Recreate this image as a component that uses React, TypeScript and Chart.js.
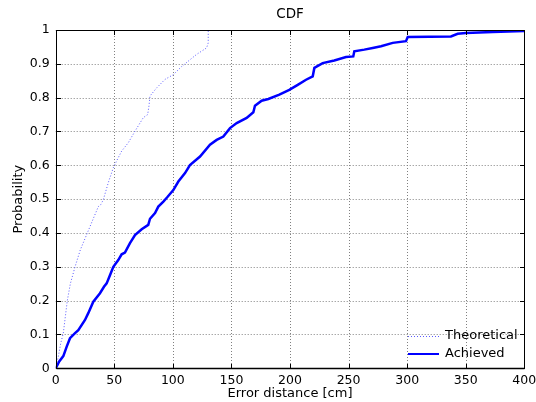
import React, { useEffect, useRef } from "react";
import { Chart, registerables } from "chart.js";

Chart.register(...registerables);

const xTickValues = [0, 50, 100, 150, 200, 250, 300, 350, 400];
const xTickLabels = ["0", "50", "100", "150", "200", "250", "300", "350", "400"];
const yTickValues = [0, 0.1, 0.2, 0.3, 0.4, 0.5, 0.6, 0.7, 0.8, 0.9, 1];
const yTickLabels = ["0", "0.1", "0.2", "0.3", "0.4", "0.5", "0.6", "0.7", "0.8", "0.9", "1"];

const achievedX = [0, 3, 6.5, 9.4, 12.2, 16.5, 19.3, 25, 27.8, 32.1, 37.8, 41.2, 43.5, 46.4, 49.2, 53.4, 56.3, 59.1, 63.4, 67.7, 73.4, 79, 80.5, 84.8, 87.6, 91.9, 95, 100.4, 104.7, 110.4, 114.6, 123.2, 131.7, 137.4, 143.1, 148.8, 154.5, 163, 168.7, 170.1, 175.8, 181.5, 190.9, 199.4, 206.6, 213.7, 219.4, 220.8, 227.9, 237.8, 247.8, 254, 254.9, 263.4, 270.6, 277.7, 287.7, 299, 300.5, 337.4, 343.1, 350.2, 373, 400];
const achievedY = [0, 0.02, 0.036, 0.064, 0.089, 0.104, 0.113, 0.143, 0.163, 0.197, 0.222, 0.241, 0.251, 0.276, 0.3, 0.32, 0.337, 0.342, 0.37, 0.394, 0.411, 0.424, 0.442, 0.459, 0.478, 0.493, 0.505, 0.527, 0.552, 0.577, 0.601, 0.626, 0.661, 0.675, 0.685, 0.71, 0.725, 0.74, 0.757, 0.776, 0.791, 0.796, 0.809, 0.823, 0.838, 0.853, 0.863, 0.888, 0.902, 0.91, 0.92, 0.922, 0.937, 0.942, 0.947, 0.952, 0.962, 0.967, 0.979, 0.981, 0.989, 0.991, 0.994, 0.997];

const theoreticalX = [0, 2.2, 4.3, 6.5, 9.9, 12.5, 16.5, 21, 27, 33, 36.4, 38.5, 40.6, 45, 49.2, 53, 56.3, 62, 67.7, 74.8, 78.5, 79.6, 80.5, 86.2, 93.3, 100.4, 107.5, 114.6, 120.3, 128.8, 130.2, 130.2];
const theoreticalY = [0, 0.034, 0.074, 0.104, 0.2, 0.25, 0.3, 0.35, 0.4, 0.45, 0.478, 0.484, 0.498, 0.55, 0.593, 0.62, 0.642, 0.667, 0.701, 0.741, 0.75, 0.775, 0.805, 0.829, 0.854, 0.868, 0.892, 0.912, 0.928, 0.947, 0.962, 0.997];

const FONT = "'DejaVu Sans', sans-serif";
const ACHIEVED_COLOR = "#0000ff";
const THEO_COLOR = "rgb(90,90,255)";

const framePlugin = {
  id: "frame",
  beforeDatasetsDraw(chart: any) {
    const { ctx, chartArea } = chart;
    const { left, right, top, bottom } = chartArea;
    const xs = chart.scales.x;
    const ys = chart.scales.y;
    ctx.save();
    ctx.strokeStyle = "#808080";
    ctx.lineWidth = 1;
    ctx.setLineDash([1, 2]);
    xTickValues.forEach((v) => {
      const px = Math.round(xs.getPixelForValue(v)) + 0.5;
      ctx.beginPath();
      ctx.moveTo(px, top);
      ctx.lineTo(px, bottom);
      ctx.stroke();
    });
    yTickValues.forEach((v) => {
      const py = Math.round(ys.getPixelForValue(v)) + 0.5;
      ctx.beginPath();
      ctx.moveTo(left, py);
      ctx.lineTo(right, py);
      ctx.stroke();
    });
    ctx.restore();
  },
  afterDraw(chart: any) {
    const { ctx, chartArea } = chart;
    const { left, right, top, bottom } = chartArea;
    const xs = chart.scales.x;
    const ys = chart.scales.y;
    ctx.save();
    ctx.strokeStyle = "#000";
    ctx.lineWidth = 1;
    ctx.setLineDash([]);
    const L = Math.round(left) + 0.5;
    const R = Math.round(right) + 0.5;
    const T = Math.round(top) + 0.5;
    const B = Math.round(bottom) + 0.5;
    ctx.strokeRect(L, T, R - L, B - T);
    ctx.lineWidth = 1.5;
    ctx.beginPath();
    ctx.moveTo(L, B);
    ctx.lineTo(R, B);
    ctx.stroke();
    ctx.lineWidth = 1;
    const tl = 4.5;
    xTickValues.forEach((v) => {
      const px = Math.round(xs.getPixelForValue(v)) + 0.5;
      ctx.beginPath();
      ctx.moveTo(px, B);
      ctx.lineTo(px, B - tl);
      ctx.moveTo(px, T);
      ctx.lineTo(px, T + tl);
      ctx.stroke();
    });
    yTickValues.forEach((v) => {
      const py = Math.round(ys.getPixelForValue(v)) + 0.5;
      ctx.beginPath();
      ctx.moveTo(L, py);
      ctx.lineTo(L + tl, py);
      ctx.moveTo(R, py);
      ctx.lineTo(R - tl, py);
      ctx.stroke();
    });

    // title
    ctx.fillStyle = "#000";
    ctx.font = `13.5px ${FONT}`;
    ctx.textAlign = "center";
    ctx.textBaseline = "middle";
    ctx.fillText("CDF", (left + right) / 2, 14);

    // legend
    const lx0 = 408;
    const lx1 = 439;
    const ty = 336;
    const ay = 354;
    ctx.strokeStyle = THEO_COLOR;
    ctx.lineWidth = 1;
    ctx.setLineDash([1, 2]);
    ctx.beginPath();
    ctx.moveTo(lx0, ty + 0.5);
    ctx.lineTo(lx1, ty + 0.5);
    ctx.stroke();
    ctx.setLineDash([]);
    ctx.strokeStyle = ACHIEVED_COLOR;
    ctx.lineWidth = 2;
    ctx.beginPath();
    ctx.moveTo(lx0, ay);
    ctx.lineTo(lx1, ay);
    ctx.stroke();
    ctx.fillStyle = "#000";
    ctx.font = `13px ${FONT}`;
    ctx.textAlign = "left";
    ctx.textBaseline = "middle";
    ctx.fillText("Theoretical", 445, ty);
    ctx.fillText("Achieved", 445, ay);
    ctx.restore();
  },
};

export default function App() {
  const ref = useRef<HTMLCanvasElement | null>(null);
  useEffect(() => {
    if (!ref.current) return;
    const chart = new Chart(ref.current, {
      type: "line",
      data: {
        datasets: [
          {
            label: "Theoretical",
            data: theoreticalX.map((x, i) => ({ x, y: theoreticalY[i] })),
            borderColor: THEO_COLOR,
            borderWidth: 1,
            borderDash: [1, 2],
            pointRadius: 0,
            fill: false,
            tension: 0,
          },
          {
            label: "Achieved",
            data: achievedX.map((x, i) => ({ x, y: achievedY[i] })),
            borderColor: ACHIEVED_COLOR,
            borderWidth: 2.5,
            pointRadius: 0,
            fill: false,
            tension: 0,
          },
        ],
      },
      options: {
        animation: false,
        responsive: false,
        devicePixelRatio: 1,
        layout: { padding: { top: 30, right: 11.7, left: 0, bottom: 0 } },
        plugins: {
          legend: { display: false },
          title: { display: false },
          tooltip: { enabled: false },
        },
        scales: {
          x: {
            type: "linear",
            min: 0,
            max: 400,
            afterFit: (s: any) => {
              s.height = 33.7;
              s.paddingLeft = 0;
              s.paddingRight = 0;
            },
            afterBuildTicks: (s: any) => {
              s.ticks = xTickValues.map((v) => ({ value: v }));
            },
            grid: { display: false, drawTicks: false },
            border: { display: false },
            ticks: {
              padding: 4.5,
              color: "#000",
              font: { family: FONT, size: 12.5 },
              maxRotation: 0,
              callback: (v: any) => {
                const i = xTickValues.indexOf(Number(v));
                return i >= 0 ? xTickLabels[i] : "";
              },
            },
            title: {
              display: true,
              text: "Error distance [cm]",
              color: "#000",
              font: { family: FONT, size: 13 },
              padding: { top: 0, bottom: 1 },
            },
          },
          y: {
            type: "linear",
            min: 0,
            max: 1,
            afterFit: (s: any) => {
              s.width = 55.7;
              s.paddingTop = 0;
              s.paddingBottom = 0;
            },
            afterBuildTicks: (s: any) => {
              s.ticks = yTickValues.map((v) => ({ value: v }));
            },
            grid: { display: false, drawTicks: false },
            border: { display: false },
            ticks: {
              padding: 6,
              color: "#000",
              font: { family: FONT, size: 12.5 },
              callback: (v: any) => {
                const i = yTickValues.findIndex((t) => Math.abs(t - Number(v)) < 1e-6);
                return i >= 0 ? yTickLabels[i] : "";
              },
            },
            title: {
              display: true,
              text: "Probability",
              color: "#000",
              font: { family: FONT, size: 13 },
              padding: { top: 11, bottom: 0 },
            },
          },
        },
      },
      plugins: [framePlugin],
    });
    return () => chart.destroy();
  }, []);
  return (
    <div style={{ position: "fixed", left: 0, top: 0, width: 536, height: 402, background: "#fff" }}>
      <canvas ref={ref} width={536} height={402} style={{ width: 536, height: 402 }} />
    </div>
  );
}
